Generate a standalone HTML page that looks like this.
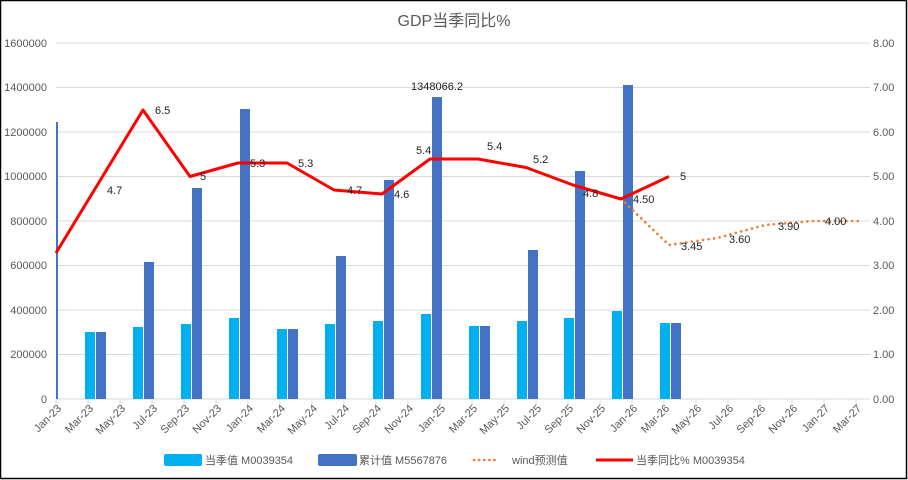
<!DOCTYPE html>
<html><head><meta charset="utf-8"><style>
html,body{margin:0;padding:0;background:#fff}
svg{display:block}
text{font-family:"Liberation Sans","Noto Sans CJK SC",sans-serif;fill:#595959;font-size:11px}
.d{fill:#222;font-size:11px}
</style></head><body>
<svg width="908" height="480" viewBox="0 0 908 480" xmlns="http://www.w3.org/2000/svg">
<rect x="0.5" y="0.5" width="906" height="478" fill="#fff" stroke="#000" stroke-width="1.5"/>
<text x="454" y="26" text-anchor="middle" style="font-size:16px">GDP当季同比%</text>
<g stroke="#d9d9d9" stroke-width="1">
<line x1="56" y1="43" x2="870" y2="43"/><line x1="56" y1="87.5" x2="870" y2="87.5"/>
<line x1="56" y1="132" x2="870" y2="132"/><line x1="56" y1="176.5" x2="870" y2="176.5"/>
<line x1="56" y1="221" x2="870" y2="221"/><line x1="56" y1="265.5" x2="870" y2="265.5"/>
<line x1="56" y1="310" x2="870" y2="310"/><line x1="56" y1="354.5" x2="870" y2="354.5"/>
<line x1="56" y1="399" x2="870" y2="399"/>
</g>
<g text-anchor="end">
<text x="47" y="47">1600000</text><text x="47" y="91">1400000</text><text x="47" y="136">1200000</text>
<text x="47" y="180">1000000</text><text x="47" y="225">800000</text><text x="47" y="269">600000</text>
<text x="47" y="314">400000</text><text x="47" y="358">200000</text><text x="47" y="403">0</text>
</g>
<g>
<text x="873" y="47">8.00</text><text x="873" y="91">7.00</text><text x="873" y="136">6.00</text>
<text x="873" y="180">5.00</text><text x="873" y="225">4.00</text><text x="873" y="269">3.00</text>
<text x="873" y="314">2.00</text><text x="873" y="358">1.00</text><text x="873" y="403">0.00</text>
</g>
<g fill="#00b0f0">
<rect x="85" y="332" width="10" height="67"/><rect x="133" y="327" width="10" height="72"/>
<rect x="181" y="324" width="10" height="75"/><rect x="229" y="318" width="10" height="81"/>
<rect x="277" y="329" width="10" height="70"/><rect x="325" y="324" width="10" height="75"/>
<rect x="373" y="321" width="10" height="78"/><rect x="421" y="314" width="10" height="85"/>
<rect x="469" y="326" width="10" height="73"/><rect x="517" y="321" width="10" height="78"/>
<rect x="564" y="318" width="10" height="81"/><rect x="612" y="311" width="10" height="88"/>
<rect x="660" y="323" width="10" height="76"/>
</g>
<g fill="#4472c4">
<rect x="56" y="122" width="2" height="277"/>
<rect x="96" y="332" width="10" height="67"/><rect x="144" y="262" width="10" height="137"/>
<rect x="192" y="188" width="10" height="211"/><rect x="240" y="109" width="10" height="290"/>
<rect x="288" y="329" width="10" height="70"/><rect x="336" y="256" width="10" height="143"/>
<rect x="384" y="180" width="10" height="219"/><rect x="432" y="97" width="10" height="302"/>
<rect x="480" y="326" width="10" height="73"/><rect x="528" y="250" width="10" height="149"/>
<rect x="575" y="171" width="10" height="228"/><rect x="623" y="85" width="10" height="314"/>
<rect x="671" y="323" width="10" height="76"/>
</g>
<g stroke="#d9d9d9">
<line x1="56" y1="399" x2="56" y2="404"/><line x1="88" y1="399" x2="88" y2="404"/><line x1="120" y1="399" x2="120" y2="404"/>
<line x1="152" y1="399" x2="152" y2="404"/><line x1="184" y1="399" x2="184" y2="404"/><line x1="216" y1="399" x2="216" y2="404"/>
<line x1="248" y1="399" x2="248" y2="404"/><line x1="280" y1="399" x2="280" y2="404"/><line x1="312" y1="399" x2="312" y2="404"/>
<line x1="344" y1="399" x2="344" y2="404"/><line x1="376" y1="399" x2="376" y2="404"/><line x1="408" y1="399" x2="408" y2="404"/>
<line x1="440" y1="399" x2="440" y2="404"/><line x1="472" y1="399" x2="472" y2="404"/><line x1="504" y1="399" x2="504" y2="404"/>
<line x1="536" y1="399" x2="536" y2="404"/><line x1="568" y1="399" x2="568" y2="404"/><line x1="600" y1="399" x2="600" y2="404"/>
<line x1="632" y1="399" x2="632" y2="404"/><line x1="664" y1="399" x2="664" y2="404"/><line x1="696" y1="399" x2="696" y2="404"/>
<line x1="728" y1="399" x2="728" y2="404"/><line x1="760" y1="399" x2="760" y2="404"/><line x1="792" y1="399" x2="792" y2="404"/>
<line x1="824" y1="399" x2="824" y2="404"/><line x1="856" y1="399" x2="856" y2="404"/>
</g>
<g text-anchor="end">
<text transform="translate(62,409) rotate(-45)">Jan-23</text><text transform="translate(94,409) rotate(-45)">Mar-23</text>
<text transform="translate(126,409) rotate(-45)">May-23</text><text transform="translate(158,409) rotate(-45)">Jul-23</text>
<text transform="translate(190,409) rotate(-45)">Sep-23</text><text transform="translate(222,409) rotate(-45)">Nov-23</text>
<text transform="translate(254,409) rotate(-45)">Jan-24</text><text transform="translate(286,409) rotate(-45)">Mar-24</text>
<text transform="translate(318,409) rotate(-45)">May-24</text><text transform="translate(350,409) rotate(-45)">Jul-24</text>
<text transform="translate(382,409) rotate(-45)">Sep-24</text><text transform="translate(414,409) rotate(-45)">Nov-24</text>
<text transform="translate(446,409) rotate(-45)">Jan-25</text><text transform="translate(478,409) rotate(-45)">Mar-25</text>
<text transform="translate(510,409) rotate(-45)">May-25</text><text transform="translate(542,409) rotate(-45)">Jul-25</text>
<text transform="translate(574,409) rotate(-45)">Sep-25</text><text transform="translate(606,409) rotate(-45)">Nov-25</text>
<text transform="translate(638,409) rotate(-45)">Jan-26</text><text transform="translate(670,409) rotate(-45)">Mar-26</text>
<text transform="translate(702,409) rotate(-45)">May-26</text><text transform="translate(734,409) rotate(-45)">Jul-26</text>
<text transform="translate(766,409) rotate(-45)">Sep-26</text><text transform="translate(798,409) rotate(-45)">Nov-26</text>
<text transform="translate(830,409) rotate(-45)">Jan-27</text><text transform="translate(862,409) rotate(-45)">Mar-27</text>
</g>
<polyline fill="none" stroke="#ed7d31" stroke-width="2.6" stroke-dasharray="0.1 5.5" stroke-linecap="round"
 points="621,199 669,245 717,238 765,225 813,221 861,221"/>
<polyline fill="none" stroke="#ff0000" stroke-width="3" stroke-linejoin="round"
 points="56,253 143,110 190,176.5 238,163 287,163 334,190 382,194 430,159 478,159 526,167.5 573,185 621,199 669,176.5"/>
<g class="d">
<text class="d" x="107" y="194">4.7</text><text class="d" x="155" y="114">6.5</text>
<text class="d" x="200" y="180">5</text><text class="d" x="250" y="167">5.3</text>
<text class="d" x="298" y="167">5.3</text><text class="d" x="347" y="194">4.7</text>
<text class="d" x="394" y="198">4.6</text><text class="d" x="416" y="154">5.4</text>
<text class="d" x="411" y="90">1348066.2</text><text class="d" x="487" y="150">5.4</text>
<text class="d" x="533" y="163">5.2</text><text class="d" x="583" y="197">4.8</text>
<text class="d" x="633" y="203">4.50</text><text class="d" x="680" y="180">5</text>
<text class="d" x="681" y="250">3.45</text><text class="d" x="729" y="243">3.60</text>
<text class="d" x="778" y="230">3.90</text><text class="d" x="825" y="225">4.00</text>
</g>
<rect x="164" y="454" width="38" height="12" rx="2" fill="#00b0f0"/>
<text x="205" y="464">当季值 M0039354</text>
<rect x="318" y="454" width="39" height="12" rx="2" fill="#4472c4"/>
<text x="359" y="464">累计值 M5567876</text>
<line x1="474" y1="460" x2="499" y2="460" stroke="#ed7d31" stroke-width="2.6" stroke-dasharray="0.1 5" stroke-linecap="round"/>
<text x="512" y="464">wind预测值</text>
<line x1="596" y1="460" x2="633" y2="460" stroke="#ff0000" stroke-width="3"/>
<text x="636" y="464">当季同比% M0039354</text>
</svg>
</body></html>
